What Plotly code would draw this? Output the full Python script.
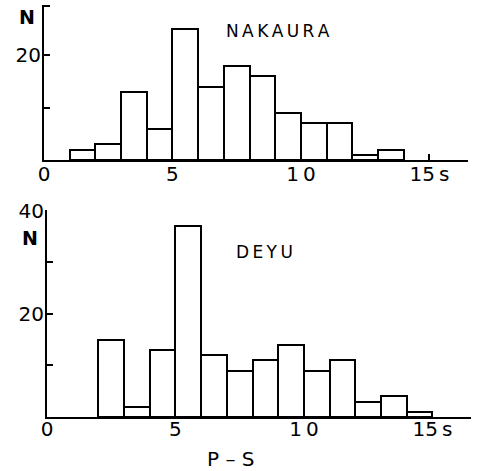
import plotly.graph_objects as go

# P-S bins (left edges, seconds) and counts
nakaura_bins = [1, 2, 3, 4, 5, 6, 7, 8, 9, 10, 11, 12, 13]
nakaura_counts = [2, 3, 13, 6, 25, 14, 18, 16, 9, 7, 7, 1, 2]

deyu_bins = [2, 3, 4, 5, 6, 7, 8, 9, 10, 11, 12, 13, 14]
deyu_counts = [15, 2, 13, 37, 12, 9, 11, 14, 9, 11, 3, 4, 1]

x_tickvals = [0, 5, 10, 15]
x_ticktext = ["0", "5", "1\u20090", "15\u2009s"]

FONT = "DejaVu Sans"
W, H = 480, 471
L, R, T, B = 44, 9, 5, 54

fig = go.Figure()

fig.add_trace(go.Bar(
    x=[b + 0.5 for b in nakaura_bins], y=nakaura_counts, width=1,
    marker=dict(color="white", line=dict(color="black", width=2)),
    xaxis="x", yaxis="y", showlegend=False, hoverinfo="skip"))
fig.add_trace(go.Bar(
    x=[b + 0.5 for b in deyu_bins], y=deyu_counts, width=1,
    marker=dict(color="white", line=dict(color="black", width=2)),
    xaxis="x2", yaxis="y2", showlegend=False, hoverinfo="skip"))

axis_common = dict(showline=True, linecolor="black", linewidth=2, showgrid=False,
                   zeroline=False, ticks="inside", ticklen=6, tickwidth=2,
                   automargin=False,
                   tickcolor="black", tickfont=dict(family=FONT, size=20, color="black"))

fig.update_layout(
    width=W, height=H,
    margin=dict(l=L, r=R, t=T, b=B),
    paper_bgcolor="white", plot_bgcolor="white",
    bargap=0,
    xaxis=dict(domain=[0, 424 / 427], range=[0, 16.5], anchor="y",
               tickvals=x_tickvals, ticktext=x_ticktext, ticklabelstandoff=-5,
               **axis_common),
    yaxis=dict(domain=[0.6238, 1], range=[0, 29.6], anchor="x",
               tickvals=[10, 20, 29.4], ticktext=["", "20", ""], ticklabelstandoff=-3,
               **axis_common),
    xaxis2=dict(domain=[3 / 427, 1], range=[0, 16.5], anchor="y2",
                tickvals=x_tickvals, ticktext=x_ticktext, ticklabelstandoff=-7,
                **axis_common),
    yaxis2=dict(domain=[0, 0.5024], range=[0, 40.1], anchor="x2",
                tickvals=[10, 20, 30, 40], ticktext=["", "20", "", "40"],
                ticklabelstandoff=-3, **axis_common),
)


def add_px_text(text, px, py, size=17, bold=True):
    xf = (px - L) / (W - L - R)
    yf = (H - B - py) / (H - T - B)
    fig.add_annotation(text=f"<b>{text}</b>" if bold else text, x=xf, y=yf,
                       xref="paper", yref="paper", showarrow=False,
                       xanchor="center", yanchor="middle",
                       font=dict(family=FONT, size=size, color="black"))


sp = "\u2009"
add_px_text("N", 27, 17, 19)
add_px_text(sp.join("NAKAURA"), 278, 31, 17, bold=False)
add_px_text("N", 30, 238, 19)
add_px_text(sp.join("DEYU"), 264, 252, 17, bold=False)
add_px_text("P \u2013 S", 230, 459, 20, bold=False)

fig.write_html("out.html", config={"displayModeBar": False},
               post_script="document.body.style.margin='0';")
